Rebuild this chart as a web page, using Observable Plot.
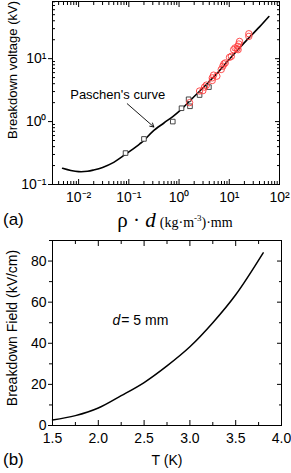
<!DOCTYPE html>
<html><head><meta charset="utf-8">
<script src="https://cdn.jsdelivr.net/npm/d3@7"></script>
<script src="https://cdn.jsdelivr.net/npm/@observablehq/plot@0.6"></script>
<style>
body{margin:0;background:#fff;}
#wrap{position:relative;width:291px;height:473px;overflow:hidden;font-family:"Liberation Sans",Arial,sans-serif;color:#000;}
.abs{position:absolute;white-space:nowrap;line-height:1;}
.rot{transform:translate(-50%,-50%) rotate(-90deg);}
.ctr{transform:translate(-50%,-50%);}
svg{position:absolute;left:0;}
</style></head><body><div id="wrap"></div>
<script>
// ---- Panel (a): Paschen's curve ----
const paschenX = [0.0048, 0.007, 0.01, 0.015, 0.02, 0.03, 0.05, 0.08, 0.1, 0.163, 0.2, 0.3, 0.5, 0.75, 1, 2, 5, 10, 20, 40, 61.5];
const paschenY = [0.181, 0.167, 0.16, 0.162, 0.17, 0.187, 0.225, 0.29, 0.33, 0.44, 0.5, 0.7, 0.95, 1.2, 1.45, 2.5, 5.2, 9.8, 18, 32, 46.8];
const squareX = [0.086, 0.2, 0.75, 1.12, 1.55, 1.65, 2.56, 3.93];
const squareY = [0.316, 0.53, 1.0, 1.63, 2.26, 1.75, 2.64, 3.53];
const circleX = [1.62, 2.56, 2.98, 3.22, 3.5, 4.58, 4.87, 4.58, 5.66, 6.92, 7.45, 7.8, 8.3, 10.1, 11, 12.2, 13, 14.3, 14.8, 15.5, 16, 15, 24.5, 24.5];
const circleY = [2.0, 3.06, 3.1, 3.53, 3.8, 4.95, 5.47, 4.5, 5.27, 6.73, 7.59, 8.25, 8.55, 10.5, 10.9, 13.9, 14.8, 14.4, 15.7, 17.1, 18.8, 13.9, 24.9, 22.6];
const xTicksA = [0.01, 0.1, 1, 10, 100];
const xTickLabelsA = ["10\u207B\u00B2", "10\u207B\u00B9", "10\u2070", "10\u00B9", "10\u00B2"];
const yTicksA = [0.1, 1, 10];
const yTickLabelsA = ["10\u207B\u00B9", "10\u2070", "10\u00B9"];
const minorMult = [2, 3, 4, 5, 6, 7, 8, 9];
const decadesXA = [0.001, 0.01, 0.1, 1, 10];
const decadesYA = [0.1, 1, 10];

// ---- Panel (b): breakdown field vs temperature ----
const tempK = [1.5, 1.75, 2.0, 2.25, 2.5, 2.75, 3.0, 3.25, 3.5, 3.8];
const fieldKVcm = [2.7, 4.8, 8.5, 14.5, 20.9, 29, 38.3, 50, 63.6, 84];
const xTicksB = [1.5, 2.0, 2.5, 3.0, 3.5, 4.0];
const xMinorB = [1.75, 2.25, 2.75, 3.25, 3.75];
const yTicksB = [0, 20, 40, 60, 80];
const yMinorB = [10, 30, 50, 70, 90];

const wrap = document.getElementById("wrap");
const font = '"Liberation Sans", Arial, sans-serif';

const paschen = paschenX.map((x, i) => ({x, y: paschenY[i]}));
const squares = squareX.map((x, i) => ({x, y: squareY[i]}));
const circles = circleX.map((x, i) => ({x, y: circleY[i]}));
const minorXA = decadesXA.flatMap(d => minorMult.map(m => d * m)).filter(v => v > 0.003 && v < 100);
const minorYA = decadesYA.flatMap(d => minorMult.map(m => d * m)).filter(v => v < 81);
const blank = () => "";

const plotA = Plot.plot({
  width: 291, height: 232,
  marginTop: 1, marginLeft: 52, marginRight: 12, marginBottom: 48,
  style: {fontFamily: font, fontSize: "13px", color: "#000", background: "transparent"},
  x: {type: "log", domain: [0.00302, 100], label: null},
  y: {type: "log", domain: [0.1, 81], label: null},
  marks: [
    Plot.frame({stroke: "#000", strokeWidth: 1}),
    Plot.axisX(xTicksA, {anchor: "bottom", label: null, tickSize: -5, tickPadding: 13, tickFormat: d => xTickLabelsA[xTicksA.indexOf(d)], fontSize: 14}),
    Plot.axisX(minorXA, {anchor: "bottom", label: null, tickSize: -3, tickFormat: blank}),
    Plot.axisX(xTicksA, {anchor: "top", label: null, tickSize: -5, tickFormat: blank}),
    Plot.axisX(minorXA, {anchor: "top", label: null, tickSize: -3, tickFormat: blank}),
    Plot.axisY(yTicksA, {anchor: "left", label: null, tickSize: 4, tickPadding: 2, tickFormat: d => yTickLabelsA[yTicksA.indexOf(d)], fontSize: 14}),
    Plot.axisY(minorYA, {anchor: "left", label: null, tickSize: -3, tickFormat: blank}),
    Plot.axisY(yTicksA, {anchor: "right", label: null, tickSize: -5, tickFormat: blank}),
    Plot.axisY(minorYA, {anchor: "right", label: null, tickSize: -3, tickFormat: blank}),
    Plot.line(paschen, {x: "x", y: "y", stroke: "#000", strokeWidth: 1.6, curve: "catmull-rom"}),
    Plot.dot(squares, {x: "x", y: "y", symbol: "square", r: 2.6, stroke: "#333", strokeWidth: 0.9, fill: "white"}),
    Plot.dot(circles, {x: "x", y: "y", r: 3.2, stroke: "#ff3b3b", strokeWidth: 0.9, fill: "none"}),
    Plot.arrow([{x1: 0.093, y1: 1.92, x2: 0.315, y2: 0.82}], {x1: "x1", y1: "y1", x2: "x2", y2: "y2", stroke: "#000", strokeWidth: 0.9, headLength: 7}),
    Plot.text(["Paschen's curve"], {x: 0.06, y: 2.64, text: d => d, fontSize: 13, fill: "#000"})
  ]
});
plotA.style.top = "0px";
wrap.appendChild(plotA);

const field = tempK.map((t, i) => ({t, e: fieldKVcm[i]}));
const plotB = Plot.plot({
  width: 291, height: 241,
  marginTop: 8, marginLeft: 52, marginRight: 10, marginBottom: 48,
  style: {fontFamily: font, fontSize: "14px", color: "#000", background: "transparent"},
  x: {domain: [1.5, 4.0], label: null},
  y: {domain: [0, 90], label: null},
  marks: [
    Plot.frame({stroke: "#000", strokeWidth: 1}),
    Plot.axisX(xTicksB, {anchor: "bottom", label: null, tickSize: -5, tickPadding: 13, tickFormat: d3.format(".1f"), fontSize: 14}),
    Plot.axisX(xMinorB, {anchor: "bottom", label: null, tickSize: -3, tickFormat: blank}),
    Plot.axisX(xTicksB, {anchor: "top", label: null, tickSize: -5, tickFormat: blank}),
    Plot.axisX(xMinorB, {anchor: "top", label: null, tickSize: -3, tickFormat: blank}),
    Plot.axisY(yTicksB, {anchor: "left", label: null, tickSize: 4, tickPadding: 2, fontSize: 14}),
    Plot.axisY(yMinorB, {anchor: "left", label: null, tickSize: 3, tickFormat: blank}),
    Plot.axisY(yTicksB, {anchor: "right", label: null, tickSize: -5, tickFormat: blank}),
    Plot.axisY(yMinorB, {anchor: "right", label: null, tickSize: -3, tickFormat: blank}),
    Plot.line(field, {x: "t", y: "e", stroke: "#000", strokeWidth: 1.5, curve: "catmull-rom"}),
    Plot.text(["d"], {x: 2.24, y: 51, text: d => d, fontSize: 14, fontStyle: "italic", textAnchor: "end", fill: "#000"}),
    Plot.text(["= 5 mm"], {x: 2.24, y: 51, text: d => d, fontSize: 14, textAnchor: "start", dx: 1, fill: "#000"})
  ]
});
plotB.style.top = "232px";
wrap.appendChild(plotB);

function addLabel(html, cls, left, top, style) {
  const el = document.createElement("div");
  el.className = "abs " + cls;
  el.style.left = left + "px";
  el.style.top = top + "px";
  el.style.cssText += style || "";
  el.innerHTML = html;
  wrap.appendChild(el);
}
addLabel("Breakdown voltage (kV)", "rot", 12, 70, "font-size:13px;");
addLabel('<span style="font-size:21px">\u03C1 \u00B7 <i>d</i></span> <span style="font-size:14px">(kg\u00B7m<sup style="font-size:9px">-3</sup>)\u00B7mm</span>', "ctr", 175, 220, 'font-family:"Liberation Serif","Times New Roman",serif;');
addLabel("(a)", "", 3, 211, "font-size:17px;");
addLabel("Breakdown Field (kV/cm)", "rot", 12, 328, "font-size:14px;");
addLabel("T (K)", "ctr", 167, 460, "font-size:14px;");
addLabel("(b)", "", 3, 451, "font-size:17px;");
</script></body></html>
